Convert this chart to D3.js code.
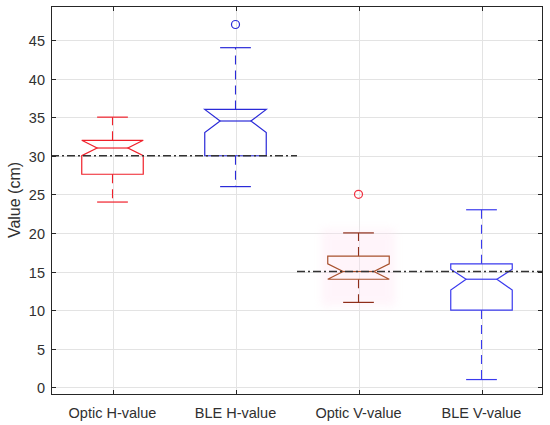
<!DOCTYPE html>
<html>
<head>
<meta charset="utf-8">
<script src="https://cdn.jsdelivr.net/npm/d3@7"></script>
<style>
  html, body { margin: 0; padding: 0; background: #fff; }
  svg { display: block; }
  text { font-family: "Liberation Sans", Arial, sans-serif; fill: #303030; }
</style>
</head>
<body>
<svg id="chart" width="550" height="425"></svg>
<script>
// ---- data ----
const categories = ["Optic H-value", "BLE H-value", "Optic V-value", "BLE V-value"];
const q1Values      = [27.6, 30, 14, 10];
const medianValues  = [31, 34.5, 15, 14];
const q3Values      = [32, 36, 17, 16];
const notchLow      = [30, 33, 14, 12.6];
const notchHigh     = [32, 36, 16, 15.3];
const whiskerLow    = [24, 26, 11, 1];
const whiskerHigh   = [35, 44, 20, 23];
const outlierValues = [[], [47], [25], []];
const yTicks = [0, 5, 10, 15, 20, 25, 30, 35, 40, 45];
const refLines = [
  { y: 30, x0: 0.5, x1: 2.5 },
  { y: 15, x0: 2.5, x1: 4.5 }
];

const boxColors     = ["#f0202a", "#2a2ad8", "#a8502c", "#3a3aee"];
const whiskerColors = ["#f0202a", "#2a2ad8", "#8e2e1a", "#3a3aee"];
const outlierColors = ["#f0202a", "#2a2ad8", "#f03040", "#3a3aee"];

// ---- layout ----
const svg = d3.select("#chart");
const mLeft = 51, mRight = 543, mTop = 6, mBottom = 395;
const x = d3.scaleLinear().domain([0.5, 4.5]).range([mLeft, mRight]);
const y = d3.scaleLinear().domain([-1, 49.4]).range([mBottom, mTop]);

// grid
const grid = svg.append("g");
grid.selectAll("line.gy").data(yTicks).enter().append("line")
  .attr("x1", mLeft).attr("x2", mRight)
  .attr("y1", d => Math.round(y(d)) + 0.5).attr("y2", d => Math.round(y(d)) + 0.5)
  .attr("stroke", "#e3e3e3").attr("stroke-width", 1);
grid.selectAll("line.gx").data(categories).enter().append("line")
  .attr("x1", (d, i) => Math.round(x(i + 1)) + 0.5).attr("x2", (d, i) => Math.round(x(i + 1)) + 0.5)
  .attr("y1", mTop).attr("y2", mBottom)
  .attr("stroke", "#e3e3e3").attr("stroke-width", 1);

// faint pink glow around the third box
const defs = svg.append("defs");
defs.append("filter").attr("id", "blur").attr("x", "-30%").attr("y", "-30%").attr("width", "160%").attr("height", "160%")
  .append("feGaussianBlur").attr("stdDeviation", 4);
svg.append("rect")
  .attr("x", x(2.7))
  .attr("y", y(20.5))
  .attr("width", x(3.3) - x(2.7))
  .attr("height", y(10.5) - y(20.5))
  .attr("fill", "#ffe2f2").attr("opacity", 0.35)
  .attr("filter", "url(#blur)");

// boxes
const halfW = 0.25, notchW = 0.125, capW = 0.125;
const g = svg.append("g");
categories.forEach((c, i) => {
  const cx = i + 1;
  const col = boxColors[i];
  const wcol = whiskerColors[i];
  g.append("line")
    .attr("x1", x(cx)).attr("x2", x(cx))
    .attr("y1", y(q3Values[i])).attr("y2", y(whiskerHigh[i]))
    .attr("stroke", wcol).attr("stroke-width", 1.1).attr("stroke-dasharray", "9,6");
  g.append("line")
    .attr("x1", x(cx)).attr("x2", x(cx))
    .attr("y1", y(q1Values[i])).attr("y2", y(whiskerLow[i]))
    .attr("stroke", wcol).attr("stroke-width", 1.1).attr("stroke-dasharray", "9,6");
  [whiskerHigh[i], whiskerLow[i]].forEach(v => {
    g.append("line")
      .attr("x1", x(cx - capW)).attr("x2", x(cx + capW))
      .attr("y1", y(v)).attr("y2", y(v))
      .attr("stroke", wcol).attr("stroke-width", 1.2);
  });
  const pts = [
    [cx - halfW, q3Values[i]], [cx + halfW, q3Values[i]],
    [cx + halfW, notchHigh[i]], [cx + notchW, medianValues[i]],
    [cx + halfW, notchLow[i]], [cx + halfW, q1Values[i]],
    [cx - halfW, q1Values[i]], [cx - halfW, notchLow[i]],
    [cx - notchW, medianValues[i]], [cx - halfW, notchHigh[i]]
  ];
  g.append("path")
    .attr("d", d3.line().x(p => x(p[0])).y(p => y(p[1]))(pts) + "Z")
    .attr("fill", "none").attr("stroke", col).attr("stroke-width", 1.2);
  g.append("line")
    .attr("x1", x(cx - notchW)).attr("x2", x(cx + notchW))
    .attr("y1", y(medianValues[i])).attr("y2", y(medianValues[i]))
    .attr("stroke", col).attr("stroke-width", 1.2);
  outlierValues[i].forEach(v => {
    g.append("circle")
      .attr("cx", x(cx)).attr("cy", y(v)).attr("r", 4)
      .attr("fill", "none").attr("stroke", outlierColors[i]).attr("stroke-width", 1.2);
  });
});

// reference lines
svg.selectAll("line.ref").data(refLines).enter().append("line")
  .attr("x1", d => x(d.x0)).attr("x2", d => x(d.x1))
  .attr("y1", d => y(d.y)).attr("y2", d => y(d.y))
  .attr("stroke", "#333333").attr("stroke-width", 1.3).attr("stroke-dasharray", "8,3,2,3");

// axes frame
svg.append("rect")
  .attr("x", mLeft + 0.5).attr("y", mTop + 0.5)
  .attr("width", mRight - mLeft - 1).attr("height", mBottom - mTop - 1)
  .attr("fill", "none").attr("stroke", "#262626").attr("stroke-width", 1);

// y ticks and labels
const yAxis = svg.append("g");
yTicks.forEach(t => {
  const yy = Math.round(y(t)) + 0.5;
  yAxis.append("line").attr("x1", mLeft).attr("x2", mLeft + 5).attr("y1", yy).attr("y2", yy).attr("stroke", "#262626");
  yAxis.append("line").attr("x1", mRight - 5).attr("x2", mRight).attr("y1", yy).attr("y2", yy).attr("stroke", "#262626");
  yAxis.append("text").attr("x", mLeft - 6).attr("y", yy).attr("dy", "0.36em")
    .attr("text-anchor", "end").attr("font-size", 14.5).text(t);
});

// x ticks and labels
const xAxis = svg.append("g");
categories.forEach((c, i) => {
  const xx = Math.round(x(i + 1)) + 0.5;
  xAxis.append("line").attr("x1", xx).attr("x2", xx).attr("y1", mBottom).attr("y2", mBottom - 5).attr("stroke", "#262626");
  xAxis.append("line").attr("x1", xx).attr("x2", xx).attr("y1", mTop).attr("y2", mTop + 5).attr("stroke", "#262626");
  xAxis.append("text").attr("x", x(i + 1)).attr("y", 413).attr("dy", "0.36em")
    .attr("text-anchor", "middle").attr("font-size", 14.5).text(c);
});

// y label
svg.append("text")
  .attr("transform", `translate(14,200) rotate(-90)`)
  .attr("text-anchor", "middle").attr("dy", "0.36em")
  .attr("font-size", 16).text("Value (cm)");
</script>
</body>
</html>
